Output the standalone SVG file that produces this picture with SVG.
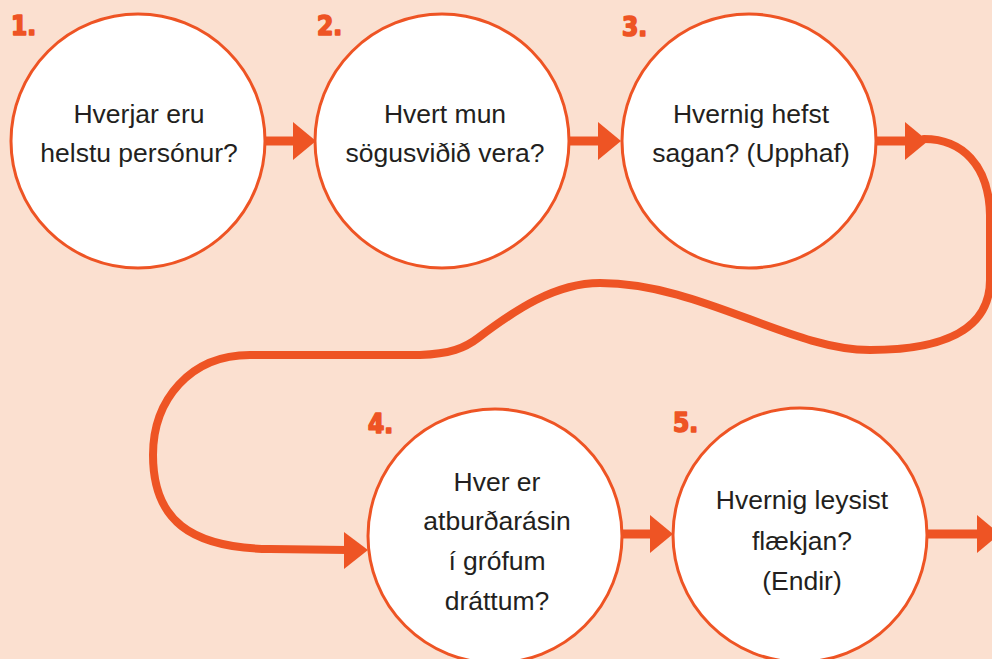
<svg xmlns="http://www.w3.org/2000/svg" width="992" height="659" viewBox="0 0 992 659">
<style>
.node circle{fill:#ffffff;stroke:#ee5424;stroke-width:3}
.lbl{font-family:"Liberation Sans",Arial,sans-serif;font-size:26.5px;fill:#231f20;text-anchor:middle}
.num{font-family:"DejaVu Sans","Liberation Sans",sans-serif;font-weight:900;font-stretch:condensed;font-size:26px;fill:#ee5424;stroke:#ee5424;stroke-width:1.6;stroke-linejoin:round}
.bar{stroke:#ee5424;stroke-width:9;fill:none}
.curve{stroke:#ee5424;stroke-width:8;fill:none;stroke-linecap:round}
.head{fill:#ee5424}
</style>
<rect width="992" height="659" fill="#fbe0d0"/>
<g id="connectors">
<path class="bar" d="M265 141H296"/>
<polygon class="head" points="293,122 316,141 293,160"/>
<path class="bar" d="M570 141H601"/>
<polygon class="head" points="598,122 621,141 598,160"/>
<path class="bar" d="M877 141H908"/>
<polygon class="head" points="905,122 928,141 905,160"/>
<path class="curve" d="M924 139 C962 139 989 165 990 215 L990 280 C990 320 960 350 870 350 C790 350 700 283 600 283 C555 283 515 310 478 338 C465 348 450 354 420 355 L250 355 C190 355 153 400 153 455 C153 520 190 548 270 549 L348 550"/>
<polygon class="head" points="344,532 368,550 344,569"/>
<path class="bar" d="M622 534H653"/>
<polygon class="head" points="650,515 673,534 650,553"/>
<path class="bar" d="M928 534H980"/>
<polygon class="head" points="977,515 1000,534 977,553"/>
</g>
<g id="node1" class="node">
<circle cx="138" cy="141" r="127"/>
<text class="num" x="11" y="35">1.</text>
<text class="lbl" x="139" y="123">Hverjar eru</text>
<text class="lbl" x="139" y="162">helstu persónur?</text>
</g>
<g id="node2" class="node">
<circle cx="442" cy="141" r="127"/>
<text class="num" x="317" y="35">2.</text>
<text class="lbl" x="445" y="123">Hvert mun</text>
<text class="lbl" x="445" y="162">sögusviðið vera?</text>
</g>
<g id="node3" class="node">
<circle cx="749" cy="141" r="127"/>
<text class="num" x="622" y="36">3.</text>
<text class="lbl" x="751" y="123">Hvernig hefst</text>
<text class="lbl" x="751" y="162">sagan? (Upphaf)</text>
</g>
<g id="node4" class="node">
<circle cx="495" cy="536" r="127"/>
<text class="num" x="368" y="433">4.</text>
<text class="lbl" x="497" y="491">Hver er</text>
<text class="lbl" x="497" y="530">atburðarásin</text>
<text class="lbl" x="497" y="570">í grófum</text>
<text class="lbl" x="497" y="610">dráttum?</text>
</g>
<g id="node5" class="node">
<circle cx="800" cy="535" r="127"/>
<text class="num" x="673" y="432">5.</text>
<text class="lbl" x="802" y="509">Hvernig leysist</text>
<text class="lbl" x="802" y="550">flækjan?</text>
<text class="lbl" x="802" y="590">(Endir)</text>
</g>
</svg>
